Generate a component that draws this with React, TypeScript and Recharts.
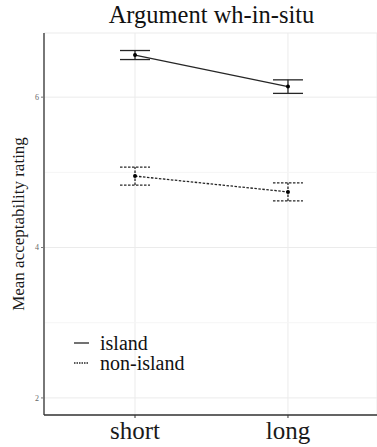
import {
  CartesianGrid,
  ComposedChart,
  ErrorBar,
  Legend,
  Line,
  ReferenceLine,
  XAxis,
  YAxis,
} from "recharts"

const FONT = "'Liberation Serif', 'DejaVu Serif', serif"

const CATEGORIES = ["short", "long"]
const ISLAND_MEAN = [6.56, 6.14]
const ISLAND_SE = [0.06, 0.09]
const NON_ISLAND_MEAN = [4.95, 4.74]
const NON_ISLAND_SE = [0.12, 0.12]
const Y_TICKS = [2, 4, 6]
const Y_MINOR = [3, 5]

const DASH = "2.5 1.5"
const INK = "#262626"

const data = CATEGORIES.map((name, i) => ({
  x: i + 1,
  name,
  island: ISLAND_MEAN[i],
  islandSe: ISLAND_SE[i],
  nonIsland: NON_ISLAND_MEAN[i],
  nonIslandSe: NON_ISLAND_SE[i],
}))

function LegendContent({ payload }: any) {
  return (
    <div style={{ fontFamily: FONT, fontSize: 20, color: "#111" }}>
      {(payload || []).map((p: any) => (
        <div
          key={p.value}
          style={{ display: "flex", alignItems: "center", height: 20 }}
        >
          <svg width={29} height={20}>
            <line
              x1={3}
              x2={18}
              y1={10}
              y2={10}
              stroke={INK}
              strokeWidth={1.3}
              strokeDasharray={p.payload?.strokeDasharray ? "1.5 1" : undefined}
            />
          </svg>
          <span style={{ lineHeight: "20px" }}>{p.value}</span>
        </div>
      ))}
    </div>
  )
}

export default function App() {
  return (
    <div
      style={{
        position: "absolute",
        left: 0,
        top: 0,
        width: 377,
        height: 447,
        background: "#fff",
      }}
    >
      <div
        style={{
          position: "absolute",
          left: 44,
          top: 3,
          width: 335,
          textAlign: "center",
          fontFamily: FONT,
          fontSize: 24.5,
          lineHeight: "24px",
          color: "#111",
        }}
      >
        Argument wh-in-situ
      </div>
      <ComposedChart
        width={377}
        height={447}
        data={data}
        margin={{ top: 33, right: 0, bottom: 0, left: 0 }}
      >
        <CartesianGrid stroke="#ebebeb" strokeWidth={1} />
        {Y_MINOR.map((v) => (
          <ReferenceLine key={v} y={v} stroke="#f5f5f5" strokeWidth={1} />
        ))}
        <XAxis
          dataKey="x"
          type="number"
          domain={[0.405, 2.582]}
          ticks={[1, 2]}
          tickFormatter={(v) => CATEGORIES[v - 1]}
          height={32}
          allowDataOverflow
          axisLine={{ stroke: "#333", strokeWidth: 1.3 }}
          tickLine={{ stroke: "#333" }}
          tickSize={3}
          tickMargin={3}
          tick={{ fontFamily: FONT, fontSize: 25, fill: "#1a1a1a" }}
        />
        <XAxis
          xAxisId="top"
          orientation="top"
          dataKey="x"
          type="number"
          domain={[0.405, 2.582]}
          height={0}
          tick={false}
          tickLine={false}
          axisLine={{ stroke: "#aaa", strokeWidth: 1 }}
        />
        <YAxis
          type="number"
          domain={[1.773, 6.853]}
          ticks={Y_TICKS}
          allowDataOverflow
          width={44}
          axisLine={{ stroke: "#333", strokeWidth: 1.3 }}
          tickLine={{ stroke: "#777" }}
          tickSize={3}
          tickMargin={2}
          tick={{ fontFamily: FONT, fontSize: 8, fill: "#666" }}
          label={{
            value: "Mean acceptability rating",
            angle: -90,
            position: "center",
            dx: -4,
            style: { fontFamily: FONT, fontSize: 17, fill: "#1a1a1a" },
          }}
        />
        <Legend
          layout="vertical"
          align="center"
          verticalAlign="middle"
          wrapperStyle={{ left: 71, top: 333, width: "auto" }}
          content={LegendContent}
        />
        <Line
          type="linear"
          dataKey="island"
          name="island"
          stroke={INK}
          strokeWidth={1.3}
          dot={{ r: 2, fill: "#000", stroke: "#000", strokeWidth: 0 }}
          activeDot={false}
          isAnimationActive={false}
        >
          <ErrorBar
            dataKey="islandSe"
            width={15}
            stroke={INK}
            strokeWidth={1.3}
            direction="y"
            isAnimationActive={false}
          />
        </Line>
        <Line
          type="linear"
          dataKey="nonIsland"
          name="non-island"
          stroke={INK}
          strokeWidth={1.3}
          strokeDasharray={DASH}
          dot={{ r: 2, fill: "#000", stroke: "#000", strokeWidth: 0 }}
          activeDot={false}
          isAnimationActive={false}
        >
          <ErrorBar
            dataKey="nonIslandSe"
            width={15}
            stroke={INK}
            strokeWidth={1.3}
            strokeDasharray={DASH}
            direction="y"
            isAnimationActive={false}
          />
        </Line>
      </ComposedChart>
    </div>
  )
}
